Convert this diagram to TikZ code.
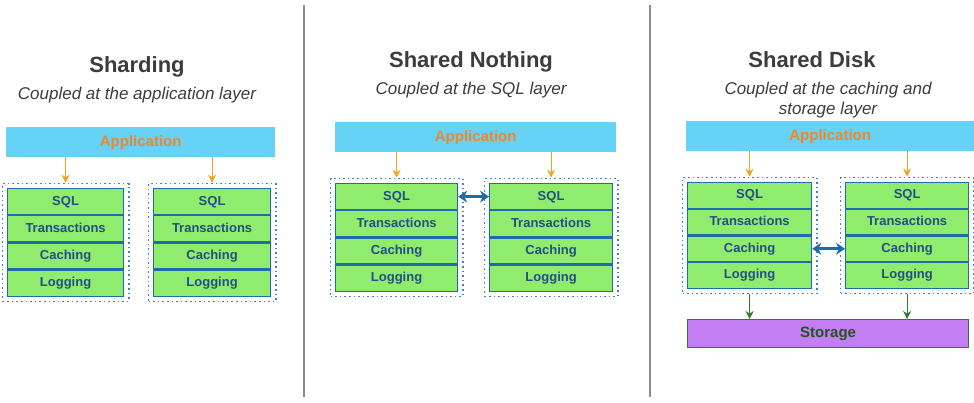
\documentclass[tikz,border=0pt]{standalone}
\usepackage{fontspec}
\setmainfont{Liberation Sans}
\usetikzlibrary{positioning,fit,arrows.meta}

\definecolor{appblue}{HTML}{66D2F6}
\definecolor{apporange}{HTML}{F0862A}
\definecolor{arroworange}{HTML}{F4A020}
\definecolor{layergreen}{HTML}{90EC6C}
\definecolor{layerblue}{HTML}{1F6CAA}
\definecolor{layertext}{HTML}{234E86}
\definecolor{framedots}{HTML}{3A86C8}
\definecolor{storepurple}{HTML}{C27EF2}
\definecolor{storegreen}{HTML}{2E7A2E}
\definecolor{titlegray}{HTML}{3C3C3C}

\begin{document}
\begin{tikzpicture}[>=stealth, x=1pt, y=-1pt,
	title/.style={font=\bfseries\fontsize{22}{24}\selectfont, text=titlegray},
	subtitle/.style={font=\itshape\fontsize{17}{20}\selectfont, text=titlegray, align=center},
	appbar/.style={fill=appblue, minimum height=30pt, anchor=north west, inner sep=0pt,
		font=\bfseries\fontsize{15}{17}\selectfont, text=apporange},
	layer/.style={draw=layerblue, line width=1.2pt, fill=layergreen, inner sep=0pt,
		text height=9.5pt, text depth=2.5pt,
		font=\bfseries\fontsize{13}{15}\selectfont, text=layertext},
	stackframe/.style={draw=framedots, line width=1.6pt, dash pattern=on 1.6pt off 3pt, inner sep=4.5pt},
	apparrow/.style={-{Stealth[length=8pt,width=8pt]}, draw=arroworange, line width=1.2pt},
	storearrow/.style={-{Stealth[length=8pt,width=8pt]}, draw=storegreen, line width=1.2pt},
	linkarrow/.style={{Stealth[length=9pt,width=12pt]}-{Stealth[length=9pt,width=12pt]}, draw=layerblue, line width=3pt},
	divider/.style={draw=black!45, line width=1.2pt}]

	\useasboundingbox (0,0) rectangle (974,402);

	% Macro for one stack of layers.
	% Usage: \drawstack{name}{left x}{top y}{width}{row height}
	\newcommand{\drawstack}[5]{
		\node[layer, minimum width=#4pt, minimum height=#5pt, anchor=north west] (#1sql) at (#2,#3) {SQL};
		\node[layer, minimum width=#4pt, minimum height=#5pt, anchor=north] (#1tx) at (#1sql.south) {Transactions};
		\node[layer, minimum width=#4pt, minimum height=#5pt, anchor=north] (#1cache) at (#1tx.south) {Caching};
		\node[layer, minimum width=#4pt, minimum height=#5pt, anchor=north] (#1log) at (#1cache.south) {Logging};
		\node[stackframe, fit=(#1sql)(#1log)] (#1frame) {};
	}

	% Panel dividers
	\draw[divider] (304,5) -- (304,397);
	\draw[divider] (650,5) -- (650,397);

	% Sharding
	\node[title] (shardtitle) at (137,67) {Sharding};
	\node[subtitle] (shardsub) at (137,95) {Coupled at the application layer};
	\node[appbar, minimum width=269pt] (shardapp) at (6,127) {Application};
	\drawstack{shA}{7}{188}{116}{26}
	\drawstack{shB}{153}{188}{117}{26}
	\draw[apparrow] (shardapp.south -| shAframe.north) -- (shAframe.north);
	\draw[apparrow] (shardapp.south -| shBframe.north) -- (shBframe.north);

	% Shared Nothing
	\node[title] (nothingtitle) at (471,62) {Shared Nothing};
	\node[subtitle] (nothingsub) at (471,90) {Coupled at the SQL layer};
	\node[appbar, minimum width=281pt] (nothingapp) at (335,122) {Application};
	\drawstack{snA}{335}{183}{122}{26}
	\drawstack{snB}{489}{183}{123}{26}
	\draw[apparrow] (nothingapp.south -| snAframe.north) -- (snAframe.north);
	\draw[apparrow] (nothingapp.south -| snBframe.north) -- (snBframe.north);
	\draw[linkarrow] (snAsql.east) -- (snBsql.west);

	% Shared Disk
	\node[title] (disktitle) at (812,60) {Shared Disk};
	\node[subtitle] (disksub) at (828,100) {Coupled at the caching and\\storage layer};
	\node[appbar, minimum width=288pt] (diskapp) at (686,121) {Application};
	\drawstack{sdA}{687}{182}{124}{25.5}
	\drawstack{sdB}{845}{182}{123}{25.5}
	\draw[apparrow] (diskapp.south -| sdAframe.north) -- (sdAframe.north);
	\draw[apparrow] (diskapp.south -| sdBframe.north) -- (sdBframe.north);
	\draw[linkarrow] (sdAcache.east) -- (sdBcache.west);
	\node[draw=storegreen, line width=1.2pt, fill=storepurple, minimum width=281pt, minimum height=28pt,
		anchor=north west, font=\bfseries\fontsize{15}{17}\selectfont, text=storegreen!70!black] (storage) at (687,319) {Storage};
	\draw[storearrow] (sdAframe.south) -- (storage.north -| sdAframe.south);
	\draw[storearrow] (sdBframe.south) -- (storage.north -| sdBframe.south);
\end{tikzpicture}
\end{document}
